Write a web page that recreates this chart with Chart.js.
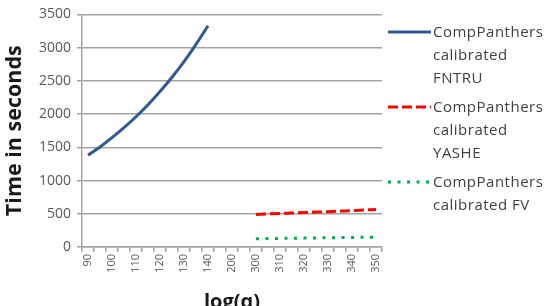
<!DOCTYPE html>
<html>
<head>
<meta charset="utf-8">
<script src="https://cdn.jsdelivr.net/npm/chart.js@4"></script>
<style>
  html, body { margin: 0; padding: 0; background: #fff; overflow: hidden; }
  #wrap { position: relative; width: 553px; height: 316px; }
  #legend { position: absolute; left: 388px; top: 0; font-family: "Open Sans", sans-serif; font-size: 15px; letter-spacing: 0.5px; color: #404040; }
  .item { position: absolute; left: 0; width: 170px; }
  .item svg { position: absolute; left: 0; }
  .item div { position: absolute; left: 45px; line-height: 23px; white-space: nowrap; }
</style>
</head>
<body>
<div id="wrap">
  <canvas id="myChart"></canvas>
  <div id="legend"></div>
</div>
<script>
// categories (every 2nd one is labelled on the axis)
const categories = ['90', '95', '100', '105', '110', '115', '120', '125', '130', '135', '140', '', '200', '', '300', '305', '310', '315', '320', '325', '330', '335', '340', '345', '350'];

const fntru = [1380, 1505, 1645, 1795, 1960, 2140, 2340, 2555, 2790, 3050, 3330, null, null, null, null, null, null, null, null, null, null, null, null, null, null];
const yashe = [null, null, null, null, null, null, null, null, null, null, null, null, null, null, 490, 498, 505, 510, 518, 525, 532, 540, 548, 556, 565];
const fv = [null, null, null, null, null, null, null, null, null, null, null, null, null, null, 125, 128, 130, 132, 135, 137, 139, 141, 143, 146, 148];

const seriesNames = [['CompPanthers', 'calibrated', 'FNTRU'], ['CompPanthers', 'calibrated', 'YASHE'], ['CompPanthers', 'calibrated FV']];
const seriesColors = ['#2e5a91', '#ff0000', '#00b050'];
const seriesDash = [[], [10, 4], [3, 6.5]];

const gridColor = '#a3a3a3';

const ctx = document.getElementById('myChart');

new Chart(ctx, {
    type: 'line',
    data: {
        labels: categories,
        datasets: [fntru, yashe, fv].map((d, i) => ({
            label: seriesNames[i].join(' '),
            data: d,
            borderColor: seriesColors[i],
            borderWidth: 3,
            borderDash: seriesDash[i],
            pointRadius: 0,
            tension: 0.4,
            cubicInterpolationMode: 'monotone',
            fill: false
        }))
    },
    options: {
        responsive: true,
        maintainAspectRatio: false,
        animation: false,
        layout: { padding: { top: 10, right: 171, left: 0, bottom: 0 } },
        plugins: {
            legend: { display: false },
            tooltip: { enabled: false }
        },
        scales: {
            x: {
                offset: true,
                grid: { offset: true, drawOnChartArea: false, drawTicks: true, tickLength: 5, color: gridColor, lineWidth: 1.5 },
                border: { color: gridColor, width: 1.5 },
                ticks: {
                    autoSkip: false,
                    minRotation: 90,
                    maxRotation: 90,
                    padding: 2,
                    color: '#595959',
                    font: { family: 'Open Sans', size: 11 },
                    callback: (v, i) => i % 2 === 0 ? categories[i] : ''
                },
                title: {
                    display: true,
                    text: 'log(q)',
                    color: '#1a1a1a',
                    font: { family: 'Open Sans', size: 20, weight: 'bold' },
                    padding: { top: 0, bottom: 2 }
                },
                afterFit: s => { s.height = 69; }
            },
            y: {
                min: 0,
                max: 3500,
                ticks: {
                    stepSize: 500,
                    padding: 6,
                    color: '#595959',
                    font: { family: 'Open Sans', size: 14 },
                    callback: v => String(v)
                },
                grid: { color: gridColor, lineWidth: 1.5, tickLength: 5 },
                border: { color: gridColor, width: 1.5 },
                title: {
                    display: true,
                    text: 'Time in seconds',
                    color: '#1a1a1a',
                    font: { family: 'Open Sans', size: 21.5, weight: 'bold' },
                    padding: { top: 2, bottom: 4 }
                },
                afterFit: s => { s.width = 82; }
            }
        }
    }
});

// legend drawn as html next to the chart
const legendTops = [20, 95, 170];
const legend = document.getElementById('legend');
seriesNames.forEach((lines, i) => {
    const item = document.createElement('div');
    item.className = 'item';
    item.style.top = legendTops[i] + 'px';
    const dash = seriesDash[i].length ? 'stroke-dasharray="' + seriesDash[i].join(',') + '"' : '';
    item.innerHTML = '<svg width="44" height="24" style="top:0"><line x1="0" y1="12" x2="43" y2="12" stroke="' + seriesColors[i] + '" stroke-width="3" ' + dash + '/></svg>' +
        '<div>' + lines.join('<br>') + '</div>';
    legend.appendChild(item);
});
</script>
</body>
</html>
